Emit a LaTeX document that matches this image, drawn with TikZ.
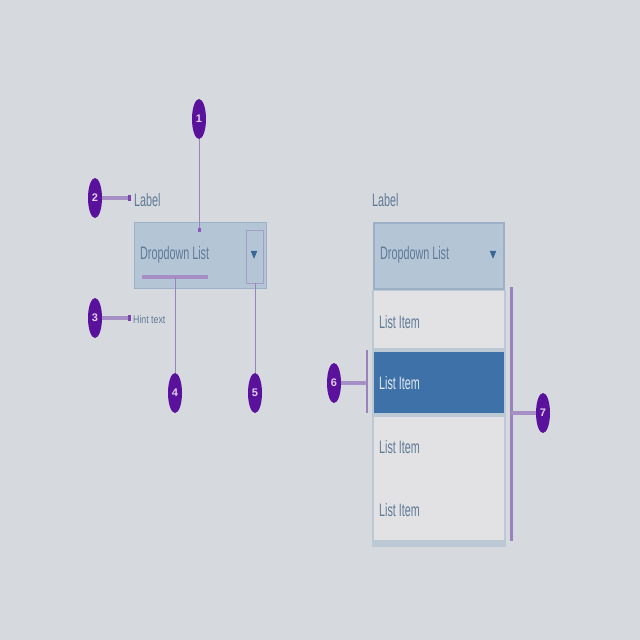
\documentclass[tikz,border=0pt]{standalone}
\usepackage{fontspec}
\setmainfont{Liberation Sans}
\usetikzlibrary{shapes.geometric,calc}
\definecolor{bg}{HTML}{D6DADF}
\definecolor{ddfill}{HTML}{B4C5D6}
\definecolor{ddedge}{HTML}{9DB1C6}
\definecolor{txt}{HTML}{5F7A96}
\definecolor{mk}{HTML}{5A129C}
\definecolor{lnk}{HTML}{A58FC4}
\definecolor{lnthin}{HTML}{9A82BC}
\definecolor{item}{HTML}{E2E2E4}
\definecolor{sel}{HTML}{3D71A8}
\tikzset{
  marker/.style={ellipse, fill=mk, minimum width=14pt, minimum height=40pt, inner sep=0pt,
    text=white!80!mk, font=\fontsize{11}{11}\selectfont\bfseries},
  thickln/.style={draw=lnk, line width=4pt},
  thinln/.style={draw=lnthin, line width=1pt},
  bigtxt/.style={text=txt, inner sep=0pt, anchor=west, font=\fontsize{18}{18}\selectfont, xscale=0.6},
  smalltxt/.style={text=txt, inner sep=0pt, anchor=west, font=\fontsize{11}{11}\selectfont, xscale=0.8},
}
\begin{document}
\begin{tikzpicture}[x=1pt,y=-1pt]
\fill[bg] (0,0) rectangle (640,640);
\useasboundingbox (0,0) rectangle (640,640);

% ---------- left dropdown ----------
\node[bigtxt] (lblL) at (134,200) {Label};
\draw[ddedge, fill=ddfill, line width=1pt] (134,222) rectangle (266,288);
\node[bigtxt] (ddL) at (140,255) {Dropdown List};
\fill[lnk] (142,275) rectangle (208,279);
\draw[lnthin!60!ddfill, line width=1pt] (246,230) rectangle (263,283);
\node[isosceles triangle, shape border rotate=-90, fill=sel!90!black, minimum width=5pt, minimum height=8pt, inner sep=0pt] (arrL) at (254,253) {};
\node[smalltxt] (hint) at (133,320) {Hint text};
\coordinate (u) at (175,277);
\coordinate (a5) at (255,283);
\coordinate (t1) at (199,232);

% markers left
\node[marker] (m1) at (199,119) {1};
\node[marker] (m2) at (95,198) {2};
\node[marker] (m3) at (95,318) {3};
\node[marker] (m4) at (175,393) {4};
\node[marker] (m5) at (255,393) {5};

\draw[thinln] (m1.south) -- (t1);
\fill[mk!70] ($(t1)+(-1.5,-4)$) rectangle ($(t1)+(1.5,0)$);
\draw[thickln] (m2.east) -- (128,198);
\fill[mk!80] (128,195) rectangle (131,201);
\draw[thickln] (m3.east) -- (128,318);
\fill[mk!80] (128,315) rectangle (131,321);
\draw[thinln] (m4.north) -- (u);
\draw[thinln] (m5.north) -- (a5);

% ---------- right dropdown ----------
\node[bigtxt] (lblR) at (372,200) {Label};
\fill[ddedge!45!bg] (372,290) rectangle (506,547);
\draw[ddedge, fill=ddfill, line width=2pt] (374,223) rectangle (504,289);
\node[bigtxt] (ddR) at (380,255) {Dropdown List};
\node[isosceles triangle, shape border rotate=-90, fill=sel!90!black, minimum width=5pt, minimum height=8pt, inner sep=0pt] (arrR) at (493,253) {};
\fill[item] (374,291) rectangle (504,348);
\fill[sel] (374,352) rectangle (504,413);
\fill[item] (374,417) rectangle (504,540);
\node[bigtxt] (i1) at (379,322) {List Item};
\node[bigtxt, text=white!85!sel] (i2) at (379,383) {List Item};
\node[bigtxt] (i3) at (379,447) {List Item};
\node[bigtxt] (i4) at (379,510) {List Item};

\node[marker] (m6) at (334,383) {6};
\node[marker] (m7) at (543,413) {7};
\coordinate (b6) at (367,383);
\coordinate (b7) at (511,413);
\draw[draw=lnthin, line width=2pt] (367,350) -- (367,413);
\draw[thickln] (m6.east) -- (b6);
\draw[draw=lnthin, line width=3pt] (511,287) -- (511,541);
\draw[thickln] (b7) -- (m7.west);
\end{tikzpicture}
\end{document}
